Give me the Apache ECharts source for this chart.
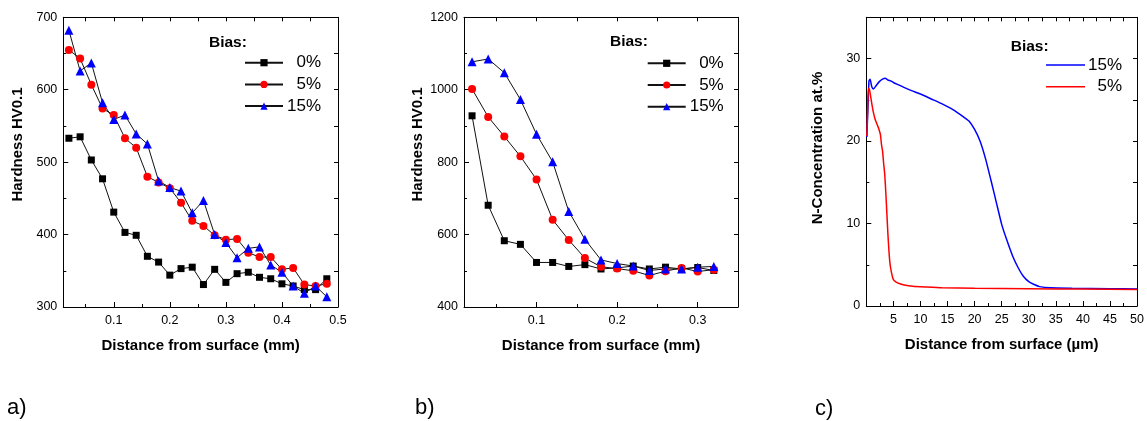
<!DOCTYPE html>
<html>
<head>
<meta charset="utf-8">
<script src="https://cdn.jsdelivr.net/npm/echarts@6/dist/echarts.min.js"></script>
<style>
html,body{margin:0;padding:0;background:#fff;}
#c{width:1147px;height:421px;}
</style>
</head>
<body>
<div id="c"></div>
<script>
// ---------- DATA ----------
const xA = [0.02,0.04,0.06,0.08,0.10,0.12,0.14,0.16,0.18,0.20,0.22,0.24,0.26,0.28,0.30,0.32,0.34,0.36,0.38,0.40,0.42,0.44,0.46,0.48];
const a0  = [533,535,503,477,431,403,399,370,362,344,353,355,331,352,334,346,348,341,339,332,329,324,324,339];
const a5  = [655,643,607,574,565,533,520,480,472,464,444,419,412,399,393,394,375,369,369,352,354,331,329,332];
const a15 = [682,626,637,582,559,565,539,525,474,465,460,430,447,400,389,368,381,383,358,348,329,319,329,314];

const xB = [0.02,0.04,0.06,0.08,0.10,0.12,0.14,0.16,0.18,0.20,0.22,0.24,0.26,0.28,0.30,0.32];
const b0  = [928,681,583,573,523,523,512,517,505,508,513,505,510,505,509,501];
const b5  = [1002,925,871,816,752,641,585,535,511,506,500,487,499,508,498,503];
const b15 = [1077,1085,1047,973,877,801,664,587,530,520,513,501,505,505,510,512];

const cX15 = [0.1,0.3,0.5,0.7,1.0,1.3,1.8,2.4,3.0,3.5,4.0,4.5,5.0,6,8,10,12,14,16,18,19,20,21,22,23,24,25,26,27,28,29,30,31,32,34,38,45,50];
const cY15 = [20.5,24.0,27.3,27.5,26.6,26.3,26.7,27.2,27.5,27.6,27.4,27.3,27.1,26.8,26.2,25.7,25.1,24.5,23.8,22.9,22.4,21.4,20.0,17.9,15.3,12.6,9.9,7.9,6.1,4.7,3.6,2.95,2.6,2.35,2.2,2.15,2.1,2.05];
const cX5 = [0.1,0.25,0.4,0.6,1.0,1.3,1.6,2.0,2.3,2.6,2.8,3.0,3.2,3.4,3.6,3.8,4.0,4.2,4.4,4.7,5.0,5.5,6.2,7,8.6,11,14,20,30,40,50];
const cY5 = [20.6,24.0,26.4,26.2,24.6,23.5,22.7,22.0,21.5,20.8,19.6,18.8,17.3,16.0,13.8,11.2,8.6,6.5,5.0,3.9,3.2,2.9,2.7,2.55,2.4,2.3,2.2,2.15,2.1,2.05,2.0];

const legendNames = ['0%','5%','15%'];
const legendNamesC = ['15%','5%'];

// tick values
const aXLab = [0.1,0.2,0.3,0.4,0.5], aXMin = [0.05,0.15,0.25,0.35,0.45];
const aYLab = [300,400,500,600,700], aYMin = [350,450,550,650];
const bXLab = [0.1,0.2,0.3], bXMin = [0.05,0.15,0.25,0.35];
const bYLab = [400,600,800,1000,1200], bYMin = [500,700,900,1100];
const cXLab = [5,10,15,20,25,30,35,40,45,50], cXMaj = [0,5,10,15,20,25,30,35,40,45,50], cXMin = [2.5,7.5,12.5,17.5,22.5,27.5,32.5,37.5,42.5,47.5];
const cYLab = [0,10,20,30], cYMin = [5,15,25];

// ---------- CHART ----------
const FONT = '"Liberation Sans", Arial, Helvetica, sans-serif';
const BLK = '#000';

function axisSet(dim, g, min, max, labVals, majVals, minVals, name) {
  const main = dim === 'x' ? 'bottom' : 'left';
  const opp = dim === 'x' ? 'top' : 'right';
  const base = {gridIndex: g, type: 'value', min: min, max: max, splitLine: {show: false}};
  const a1 = Object.assign({}, base, {
    position: main,
    axisLine: {show: true, onZero: false, lineStyle: {color: BLK, width: 1}},
    axisTick: {show: true, inside: true, length: 5, customValues: majVals, lineStyle: {color: BLK, width: 1}},
    axisLabel: {show: true, customValues: labVals, color: BLK, fontSize: 12.5, fontFamily: FONT, margin: dim === 'x' ? 7 : 6,
      formatter: v => String(v)}
  });
  if (name) {
    a1.name = name; a1.nameLocation = 'middle'; a1.nameGap = 31;
    a1.nameTextStyle = {color: BLK, fontSize: 15, fontWeight: 'bold', fontFamily: FONT};
  }
  const a2 = Object.assign({}, base, {
    position: main,
    axisLine: {show: false, onZero: false},
    axisTick: {show: true, inside: true, length: 3, customValues: minVals, lineStyle: {color: BLK, width: 1}},
    axisLabel: {show: false}
  });
  const a3 = Object.assign({}, base, {
    position: opp,
    axisLine: {show: true, onZero: false, lineStyle: {color: BLK, width: 1}},
    axisTick: {show: true, inside: true, length: 4, customValues: majVals.concat(minVals), lineStyle: {color: BLK, width: 1}},
    axisLabel: {show: false}
  });
  return [a1, a2, a3];
}

const xAxes = [].concat(
  axisSet('x', 0, 0.01, 0.5, aXLab, aXLab, aXMin, 'Distance from surface (mm)'),
  axisSet('x', 1, 0.01, 0.35, bXLab, bXLab, bXMin, 'Distance from surface (mm)'),
  axisSet('x', 2, 0, 50, cXLab, cXMaj, cXMin, 'Distance from surface (\u00b5m)')
);
const yAxes = [].concat(
  axisSet('y', 0, 300, 700, aYLab, aYLab, aYMin, null),
  axisSet('y', 1, 400, 1200, bYLab, bYLab, bYMin, null),
  axisSet('y', 2, 0, 35, cYLab, cYLab, cYMin, null)
);

function pts(xs, ys) { return xs.map((x, i) => [x, ys[i]]); }

function markerSeries(name, g, xs, ys, symbol, size, color) {
  return {
    name: name, type: 'line', xAxisIndex: g * 3, yAxisIndex: g * 3,
    data: pts(xs, ys), symbol: symbol, symbolSize: size, showSymbol: true,
    itemStyle: {color: color, borderWidth: 0},
    lineStyle: {color: '#111', width: 1},
    emphasis: {disabled: true}, animation: false
  };
}

const series = [
  markerSeries('0%', 0, xA, a0, 'rect', 7, '#000000'),
  markerSeries('5%', 0, xA, a5, 'circle', 8, '#ff0000'),
  markerSeries('15%', 0, xA, a15, 'triangle', 9, '#0000ff'),
  markerSeries('0%', 1, xB, b0, 'rect', 7, '#000000'),
  markerSeries('5%', 1, xB, b5, 'circle', 8, '#ff0000'),
  markerSeries('15%', 1, xB, b15, 'triangle', 9, '#0000ff'),
  {name: 'N15', type: 'line', xAxisIndex: 6, yAxisIndex: 6, data: pts(cX15, cY15), symbol: 'none',
   itemStyle: {color: '#0000ff'}, lineStyle: {color: '#0000ff', width: 1.5}, smooth: 0.2, animation: false},
  {name: 'N5', type: 'line', xAxisIndex: 6, yAxisIndex: 6, data: pts(cX5, cY5), symbol: 'none',
   itemStyle: {color: '#ff0000'}, lineStyle: {color: '#ff0000', width: 1.5}, smooth: 0.2, animation: false}
];

function legendAB(left, top) {
  return {
    data: legendNames, orient: 'vertical', left: left, top: top, padding: 0,
    itemWidth: 38, itemHeight: 9, itemGap: 3.7, selectedMode: false,
    formatter: n => '{r|' + n + '}',
    textStyle: {color: BLK, fontSize: 17, fontFamily: FONT, lineHeight: 18,
      rich: {r: {width: 33, align: 'right', fontSize: 17, fontFamily: FONT, color: BLK, lineHeight: 18}}}
  };
}
const legendC = {
  data: [{name: 'N15', icon: 'rect'}, {name: 'N5', icon: 'rect'}], orient: 'vertical', left: 1046, top: 56, padding: 0,
  itemWidth: 39, itemHeight: 1.6, itemGap: 3.7, selectedMode: false,
  formatter: n => '{r|' + (n === 'N15' ? legendNamesC[0] : legendNamesC[1]) + '}',
  textStyle: {color: BLK, fontSize: 17, fontFamily: FONT, lineHeight: 18,
    rich: {r: {width: 32, align: 'right', fontSize: 17, fontFamily: FONT, color: BLK, lineHeight: 18}}}
};

function txt(text, x, y, size, weight, rot) {
  return {
    type: 'text', x: x, y: y, rotation: rot || 0, silent: true,
    style: {text: text, font: (weight || 'normal') + ' ' + size + 'px ' + FONT, fill: BLK,
      align: rot ? 'center' : 'left', verticalAlign: 'middle',
      textAlign: rot ? 'center' : 'left', textVerticalAlign: 'middle'}
  };
}

const option = {
  backgroundColor: '#fff',
  animation: false,
  grid: [
    {left: 63.3, right: 809, top: 17.3, bottom: 114},
    {left: 464, right: 409, top: 17.3, bottom: 114},
    {left: 866.3, right: 7.7, top: 17.3, bottom: 115}
  ],
  xAxis: xAxes,
  yAxis: yAxes,
  legend: [legendAB(244, 53.7), legendAB(646.7, 54.3), legendC],
  series: series,
  graphic: [
    txt('Bias:', 209, 42.7, 15.5, 'bold'),
    txt('Bias:', 610, 41.7, 15.5, 'bold'),
    txt('Bias:', 1010.7, 46.7, 15.5, 'bold'),
    txt('Hardness HV0.1', 17.5, 144.5, 15, 'bold', Math.PI / 2),
    txt('Hardness HV0.1', 418, 144.5, 15, 'bold', Math.PI / 2),
    txt('N-Concentration at.%', 818, 148, 15, 'bold', Math.PI / 2),
    txt('a)', 7, 408, 22),
    txt('b)', 415, 408, 22),
    txt('c)', 815, 409, 22)
  ]
};

const chart = echarts.init(document.getElementById('c'), null, {renderer: 'canvas'});
chart.setOption(option);
</script>
</body>
</html>
